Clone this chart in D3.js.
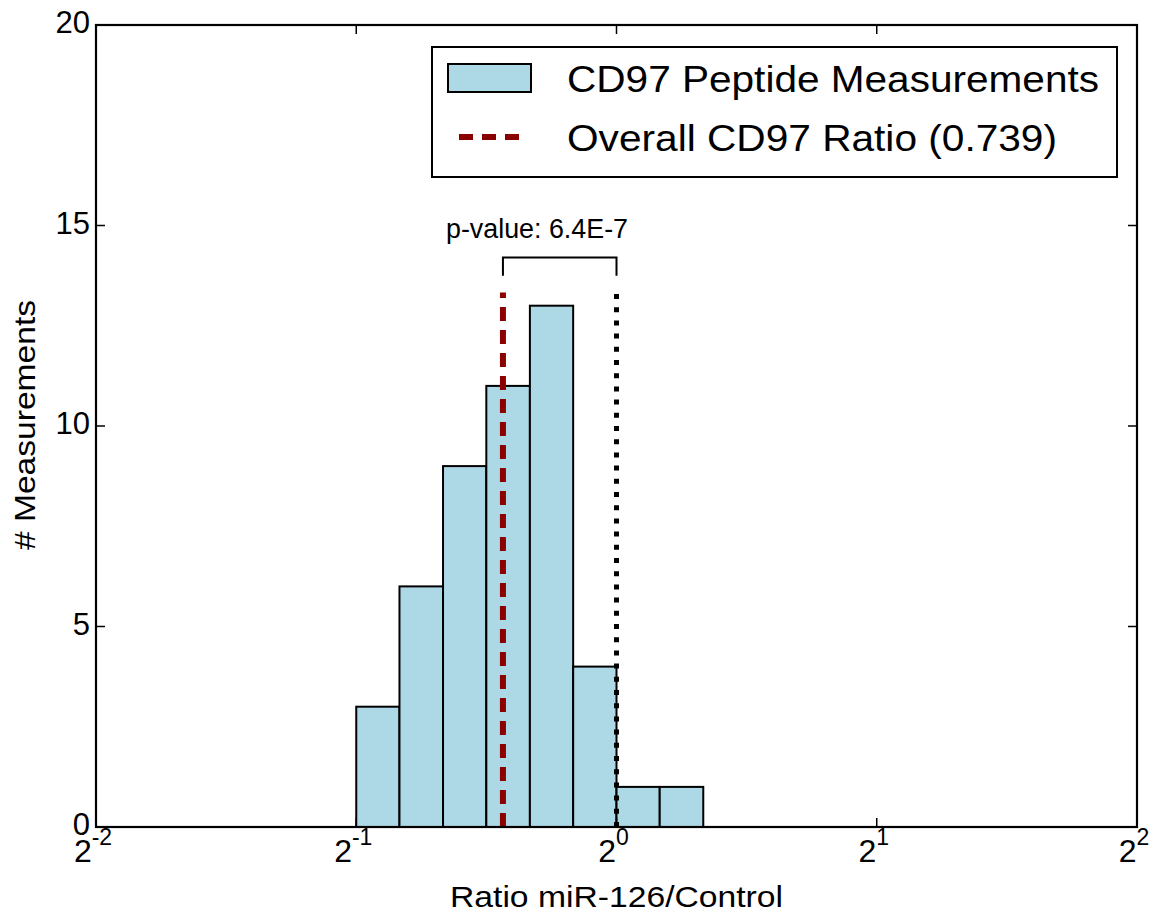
<html>
  <head>
    <script src="https://d3js.org/d3.v7.min.js"></script>
    <style>
      body { margin: 0; background: white; }
      svg text { font-family: "Liberation Sans", Arial, sans-serif; fill: black; }
    </style>
  </head>
  <body>
    <div id="chart"></div>
    <script>
      // histogram bins (ratio edges on a log2 axis) and counts
      const binEdges = [0.5, 0.561, 0.630, 0.707, 0.794, 0.891, 1.0, 1.122, 1.260];
      const binCounts = [3, 6, 9, 11, 13, 4, 1, 1];

      const overallRatio = 0.739;
      const controlRatio = 1.0;
      const lineTop = 13.33;       // height of the two vertical lines (counts)
      const bracketTop = 14.2;
      const bracketFoot = 13.75;

      const xTickExps = [-2, -1, 0, 1, 2];
      const yTicks = [0, 5, 10, 15, 20];
      const legendLabels = ['CD97 Peptide Measurements', 'Overall CD97 Ratio (0.739)'];
      const pValueLabel = 'p-value: 6.4E-7';

      const width = 1156;
      const height = 913;
      const margin = ({top: 25, right: 19, bottom: 86, left: 96});

      const svg = d3.create('svg')
        .attr('width', width)
        .attr('height', height);

      const xScale = d3.scaleLog()
        .base(2)
        .domain([0.25, 4])
        .range([margin.left, width - margin.right]);

      const yScale = d3.scaleLinear()
        .domain([0, 20])
        .range([height - margin.bottom, margin.top]);

      const bins = binCounts.map((c, i) => ({x0: binEdges[i], x1: binEdges[i + 1], count: c}));

      // bars
      svg.append('g')
        .selectAll('rect')
        .data(bins)
        .join('rect')
          .attr('x', d => xScale(d.x0))
          .attr('y', d => yScale(d.count))
          .attr('width', d => xScale(d.x1) - xScale(d.x0))
          .attr('height', d => yScale(0) - yScale(d.count))
          .attr('fill', '#add8e6')
          .attr('stroke', 'black')
          .attr('stroke-width', 2);

      // overall ratio (red dashed) and control ratio (black dotted)
      svg.append('line')
        .attr('x1', xScale(overallRatio)).attr('x2', xScale(overallRatio))
        .attr('y1', yScale(0)).attr('y2', yScale(lineTop))
        .attr('stroke', '#8b0000')
        .attr('stroke-width', 6)
        .attr('stroke-dasharray', '14,9');

      svg.append('line')
        .attr('x1', xScale(controlRatio)).attr('x2', xScale(controlRatio))
        .attr('y1', yScale(0)).attr('y2', yScale(lineTop))
        .attr('stroke', 'black')
        .attr('stroke-width', 5)
        .attr('stroke-dasharray', '5,8.2');

      // p-value bracket
      const bx0 = xScale(overallRatio), bx1 = xScale(controlRatio);
      svg.append('path')
        .attr('d', `M${bx0},${yScale(bracketFoot)}V${yScale(bracketTop)}H${bx1}V${yScale(bracketFoot)}`)
        .attr('fill', 'none')
        .attr('stroke', 'black')
        .attr('stroke-width', 2);

      svg.append('text')
        .attr('x', 446)
        .attr('y', 238)
        .attr('font-size', '27px')
        .attr('textLength', 182)
        .attr('lengthAdjust', 'spacingAndGlyphs')
        .text(pValueLabel);

      // frame
      svg.append('rect')
        .attr('x', margin.left)
        .attr('y', margin.top)
        .attr('width', width - margin.left - margin.right)
        .attr('height', height - margin.top - margin.bottom)
        .attr('fill', 'none')
        .attr('stroke', 'black')
        .attr('stroke-width', 2.2);

      // ticks inside on all four sides
      const tickLen = 9;
      const ticks = svg.append('g').attr('stroke', 'black').attr('stroke-width', 1.5);
      xTickExps.forEach(e => {
        const x = xScale(Math.pow(2, e));
        ticks.append('line').attr('x1', x).attr('x2', x)
          .attr('y1', yScale(0)).attr('y2', yScale(0) - tickLen);
        ticks.append('line').attr('x1', x).attr('x2', x)
          .attr('y1', yScale(20)).attr('y2', yScale(20) + tickLen);
      });
      yTicks.forEach(t => {
        const y = yScale(t);
        ticks.append('line').attr('x1', xScale(0.25)).attr('x2', xScale(0.25) + tickLen)
          .attr('y1', y).attr('y2', y);
        ticks.append('line').attr('x1', xScale(4)).attr('x2', xScale(4) - tickLen)
          .attr('y1', y).attr('y2', y);
      });

      // y tick labels
      svg.append('g')
        .selectAll('text')
        .data(yTicks)
        .join('text')
          .attr('x', margin.left - 6)
          .attr('y', d => yScale(d) + 8)
          .attr('text-anchor', 'end')
          .attr('font-size', '31px')
          .text(d => d);

      // x tick labels: 2^n
      const xl = svg.append('g')
        .selectAll('text')
        .data(xTickExps)
        .join('text')
          .attr('x', d => xScale(Math.pow(2, d)) - 3)
          .attr('y', 862)
          .attr('text-anchor', 'middle')
          .attr('font-size', '32px');
      xl.append('tspan').text('2');
      xl.append('tspan')
        .attr('font-size', '23px')
        .attr('dy', -17)
        .text(d => d);

      // axis titles
      svg.append('text')
        .attr('x', xScale(1))
        .attr('y', 907)
        .attr('text-anchor', 'middle')
        .attr('font-size', '30px')
        .attr('textLength', 333)
        .attr('lengthAdjust', 'spacingAndGlyphs')
        .text('Ratio miR-126/Control');

      svg.append('text')
        .attr('transform', 'translate(35, 425) rotate(-90)')
        .attr('text-anchor', 'middle')
        .attr('font-size', '30px')
        .attr('textLength', 250)
        .attr('lengthAdjust', 'spacingAndGlyphs')
        .text('# Measurements');

      // legend
      const legend = svg.append('g');
      legend.append('rect')
        .attr('x', 432).attr('y', 47)
        .attr('width', 685).attr('height', 130)
        .attr('fill', 'white')
        .attr('stroke', 'black')
        .attr('stroke-width', 2);
      legend.append('rect')
        .attr('x', 448).attr('y', 64)
        .attr('width', 83).attr('height', 28)
        .attr('fill', '#add8e6')
        .attr('stroke', 'black')
        .attr('stroke-width', 2);
      legend.append('line')
        .attr('x1', 459).attr('x2', 520)
        .attr('y1', 137).attr('y2', 137)
        .attr('stroke', '#8b0000')
        .attr('stroke-width', 6)
        .attr('stroke-dasharray', '14,9');
      legend.append('text')
        .attr('x', 567).attr('y', 92)
        .attr('font-size', '36px')
        .attr('textLength', 532)
        .attr('lengthAdjust', 'spacingAndGlyphs')
        .text(legendLabels[0]);
      legend.append('text')
        .attr('x', 567).attr('y', 151)
        .attr('font-size', '36px')
        .attr('textLength', 490)
        .attr('lengthAdjust', 'spacingAndGlyphs')
        .text(legendLabels[1]);

      document.getElementById('chart').appendChild(svg.node());
    </script>
  </body>
</html>
